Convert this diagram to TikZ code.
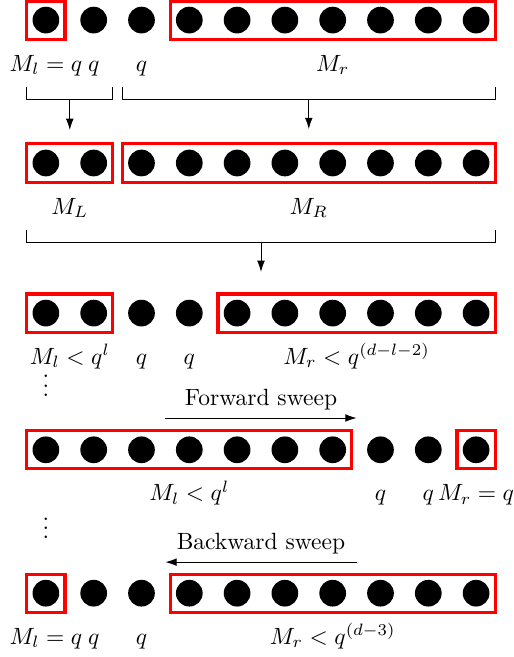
\documentclass[tikz,border=0pt]{standalone}
\usetikzlibrary{fit,arrows.meta}

\begin{document}
\begin{tikzpicture}[x=0.714cm,y=0.714cm,
    ball/.style={circle,fill=black,inner sep=0pt,outer sep=0pt,minimum size=0.399cm},
    redbox/.style={draw=red,line width=1.33pt,inner sep=0.086cm},
    lbl/.style={anchor=base},
    vd/.style={inner sep=0pt,text height=9.1pt,text depth=0pt},
    arr/.style={-{Latex[length=4.8pt,width=3.3pt]}}]
    \useasboundingbox (0.04,0) rectangle (10.79,-13.745);
    \foreach \r/\y in {1/-0.42,2/-3.41,3/-6.55,4/-9.41,5/-12.41}
        \foreach \i in {1,...,10}
            \node[ball] (d\r-\i) at (\i,\y) {};

    \node[redbox,fit=(d1-1)] (Ml1) {};
    \node[redbox,fit=(d1-4)(d1-10)] (Mr1) {};
    \node[lbl] (tMl1) at (1,-1.49) {$M_l = q$};
    \node[lbl] (tqa1) at (2,-1.49) {$q$};
    \node[lbl] (tqb1) at (3,-1.49) {$q$};
    \node[lbl] (tMr1) at (7,-1.49) {$M_r$};
    \draw (0.6,-1.82) |- (2.4,-2.09) -- (2.4,-1.82);
    \draw (2.6,-1.82) |- (10.4,-2.09) -- (10.4,-1.82);
    \coordinate (sL) at (1.5,-2.09);
    \coordinate (eL) at (1.5,-2.72);
    \coordinate (sR) at (6.5,-2.09);
    \coordinate (eR) at (6.5,-2.70);
    \draw[arr] (sL) -- (eL);
    \draw[arr] (sR) -- (eR);

    \node[redbox,fit=(d2-1)(d2-2)] (ML2) {};
    \node[redbox,fit=(d2-3)(d2-10)] (MR2) {};
    \node[lbl] (tML2) at (1.5,-4.48) {$M_L$};
    \node[lbl] (tMR2) at (6.5,-4.48) {$M_R$};
    \draw (0.6,-4.81) |- (10.4,-5.08) -- (10.4,-4.81);
    \coordinate (sM) at (5.5,-5.08);
    \coordinate (eM) at (5.5,-5.69);
    \draw[arr] (sM) -- (eM);

    \node[redbox,fit=(d3-1)(d3-2)] (Ml3) {};
    \node[redbox,fit=(d3-5)(d3-10)] (Mr3) {};
    \node[lbl] (tMl3) at (1.5,-7.62) {$M_l < q^l$};
    \node[lbl] (tqa3) at (3,-7.62) {$q$};
    \node[lbl] (tqb3) at (4,-7.62) {$q$};
    \node[lbl] (tMr3) at (7.5,-7.62) {$M_r < q^{(d-l-2)}$};
    \node[vd] (vd1) at (1,-8.075) {$\vdots$};

    \coordinate (fw1) at (3.5,-8.745);
    \coordinate (fw2) at (7.5,-8.745);
    \draw[arr] (fw1) -- node[above] (tfw) {Forward sweep} (fw2);

    \node[redbox,fit=(d4-1)(d4-7)] (Ml4) {};
    \node[redbox,fit=(d4-10)] (Mr4) {};
    \node[lbl] (tMl4) at (4,-10.48) {$M_l < q^l$};
    \node[lbl] (tqa4) at (8,-10.48) {$q$};
    \node[lbl] (tqb4) at (9,-10.48) {$q$};
    \node[lbl] (tMr4) at (10,-10.48) {$M_r = q$};
    \node[vd] (vd2) at (1,-11.05) {$\vdots$};

    \coordinate (bw1) at (7.5,-11.76);
    \coordinate (bw2) at (3.5,-11.76);
    \draw[arr] (bw1) -- node[above] (tbw) {Backward sweep} (bw2);

    \node[redbox,fit=(d5-1)] (Ml5) {};
    \node[redbox,fit=(d5-4)(d5-10)] (Mr5) {};
    \node[lbl] (tMl5) at (1,-13.48) {$M_l = q$};
    \node[lbl] (tqa5) at (2,-13.48) {$q$};
    \node[lbl] (tqb5) at (3,-13.48) {$q$};
    \node[lbl] (tMr5) at (7,-13.48) {$M_r < q^{(d-3)}$};
\end{tikzpicture}
\end{document}
